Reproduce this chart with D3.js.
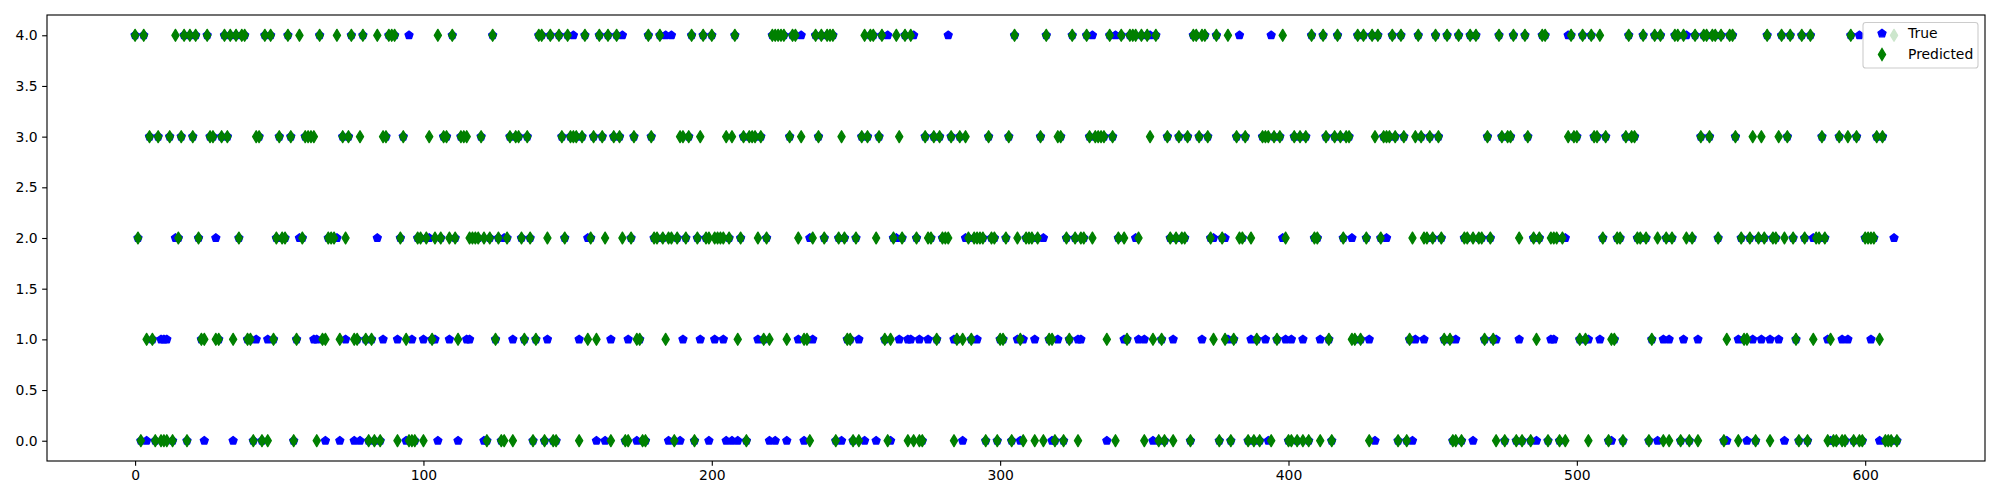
<!DOCTYPE html>
<html><head><meta charset="utf-8">
<script src="https://cdn.jsdelivr.net/npm/d3@7"></script>
<style>body{margin:0;background:#fff}svg{display:block}</style>
</head><body>
<svg id="chart" width="2000" height="500"></svg>
<script>
// Predicted class per sample (index 0..611)
const predictedValues = [
4,2,0,4,1,3,1,0,3,0, 0,0,3,0,4,2,3,4,0,4, 3,4,2,1,1,4,3,3,1,1, 3,4,3,4,1,4,2,4,4,1,
1,0,3,3,0,4,0,4,1,2, 3,2,2,4,3,0,1,4,2,3, 3,3,3,0,4,1,1,2,2,2, 4,1,3,2,3,4,1,1,3,4,
1,0,1,0,4,0,3,3,4,4, 4,0,2,3,1,0,0,0,2,2, 0,2,3,1,2,4,2,3,3,2, 4,2,1,3,3,3,2,2,2,2,
3,2,0,2,4,1,2,0,0,2, 3,0,3,3,2,1,3,2,0,1, 4,4,0,2,4,0,0,4,3,2, 4,3,3,3,0,3,4,1,2,3,
1,4,3,2,4,0,3,4,3,2, 0,0,2,3,1,1,0,0,4,3, 2,2,4,2,1,2,2,0,2,3, 3,2,3,4,0,2,3,4,2,2,
4,2,2,2,2,3,2,3,4,1, 2,3,0,3,3,3,2,3,1,2, 1,4,4,4,4,4,1,3,4,4, 2,3,1,1,0,2,4,3,4,2,
4,4,4,0,2,3,2,1,1,0, 2,0,3,4,3,4,4,2,3,4, 1,0,1,2,4,3,2,4,0,4, 0,2,0,0,3,2,2,3,1,3,
2,2,2,3,0,1,3,1,3,2, 1,2,2,2,2,0,3,2,2,0, 1,1,2,3,0,4,2,1,0,2, 2,2,0,2,3,0,4,1,1,0,
3,3,0,2,1,4,2,0,2,2, 4,3,2,3,3,3,3,1,4,3, 0,2,4,2,1,4,4,4,2,4, 0,4,3,1,4,0,1,0,3,2,
0,2,3,2,2,3,0,4,4,3, 4,4,3,2,1,4,0,2,1,4, 0,1,3,2,2,3,0,2,0,1, 0,3,3,3,0,3,1,3,4,2,
0,0,3,0,3,0,3,0,4,2, 2,0,4,3,1,0,3,4,3,2, 3,3,1,1,4,1,4,2,0,4, 3,4,2,3,3,3,4,3,0,4,
3,0,1,2,3,4,3,2,2,3, 2,4,3,2,1,4,1,0,0,4, 0,2,2,4,2,4,2,2,1,3, 2,1,0,4,3,0,3,3,4,0,
2,0,4,3,0,2,1,2,4,4, 0,2,2,2,0,2,0,3,4,3, 3,1,4,1,0,4,3,3,4,2, 3,0,1,1,2,2,0,3,4,3,
3,2,2,4,2,0,1,4,2,4, 0,2,0,2,4,4,0,4,2,0, 2,4,0,3,4,4,3,4,4,2, 4,0,1,4,4,3,0,2,1,1,
2,3,0,2,3,2,4,0,2,2, 3,4,2,3,4,2,1,0,4,2, 0,4,1,2,2,3,2,0,1,0, 0,3,0,0,3,4,0,3,0,0,
2,2,2,2,3,1,3,0,0,0, 4,0
];
// True class per sample (index 0..611)
const trueValues = [
4,2,0,4,0,3,1,0,3,1, 1,1,3,0,2,2,3,4,0,4, 3,4,2,1,0,4,3,3,2,1, 3,4,3,4,0,4,2,4,4,1,
1,0,1,3,0,4,1,4,1,2, 3,2,2,4,3,0,1,2,2,3, 3,3,1,1,4,1,0,2,2,2, 2,0,3,1,3,4,0,1,0,4,
1,0,1,0,2,0,1,3,4,4, 4,1,2,3,0,4,1,0,2,2, 1,2,2,1,1,0,2,3,3,1, 4,2,0,3,3,1,1,2,2,2,
3,0,0,2,4,1,2,0,2,2, 3,1,3,3,2,1,3,2,0,1, 4,4,0,1,4,0,0,4,3,2, 4,3,4,3,1,3,4,2,2,3,
0,4,3,0,4,1,3,4,3,4, 0,1,2,3,0,1,0,0,4,3, 2,2,4,2,4,0,4,0,2,0, 1,2,3,4,0,2,1,4,2,0,
4,1,2,2,1,0,2,0,4,0, 2,3,0,3,3,3,1,3,1,2, 0,4,0,4,4,4,0,3,4,4, 1,4,0,1,2,1,4,3,4,2,
4,4,4,0,2,0,2,1,1,0, 2,1,3,0,3,4,4,0,3,4, 1,4,0,2,2,1,2,4,1,1, 4,2,1,0,3,1,2,3,1,3,
2,2,4,3,1,1,3,0,2,2, 1,2,1,2,2,0,3,2,2,0, 1,1,2,3,0,4,1,0,1,2, 2,2,1,2,3,2,4,1,0,0,
1,3,0,2,1,4,2,1,1,2, 4,3,4,3,3,3,3,0,4,3, 4,2,4,1,1,4,4,2,1,4, 1,4,4,0,4,0,1,0,3,2,
1,2,3,2,2,3,0,4,4,3, 1,4,3,2,2,4,0,2,2,1, 0,1,3,4,2,3,0,1,0,1, 0,3,1,0,4,3,1,3,2,1,
0,1,3,0,3,1,3,0,4,2, 2,1,4,3,1,0,3,4,3,2, 3,3,2,1,4,1,4,2,1,4, 0,4,2,3,2,3,4,3,0,4,
3,0,1,0,1,4,3,1,2,3, 2,4,3,2,1,4,1,0,1,4, 0,2,2,4,0,4,2,2,1,3, 2,1,1,4,3,0,3,3,4,0,
1,0,4,3,0,2,0,2,4,4, 0,1,1,2,0,2,2,4,4,3, 3,1,4,1,1,4,3,3,1,2, 3,0,0,1,2,2,0,3,4,3,
3,2,2,4,2,0,1,4,0,4, 1,2,1,2,4,4,0,1,4,0, 2,4,1,3,4,4,3,4,4,2, 4,0,0,4,4,3,1,2,1,0,
2,1,0,2,1,2,4,1,2,2, 1,4,0,3,4,2,1,0,4,2, 0,4,2,2,2,3,2,1,0,0, 0,3,1,0,1,4,0,3,4,0,
2,2,1,2,3,0,3,0,0,0, 2,0
];
const xTickValues = [0, 100, 200, 300, 400, 500, 600];
const yTickValues = [0, 0.5, 1, 1.5, 2, 2.5, 3, 3.5, 4];
const seriesLabels = ["True", "Predicted"];
const seriesColors = ["#0000ff", "#008000"];

const svg = d3.select("#chart");
const font = "DejaVu Sans, sans-serif";
const fs = 13.9;
const L = 47, R = 1985, T = 15, B = 461;
const n = trueValues.length;
const pad = (n - 1) * 0.05;
const x = d3.scaleLinear().domain([-pad, (n - 1) + pad]).range([L, R]);
const y = d3.scaleLinear().domain([-0.2, 4.2]).range([B, T]);

// marker shapes (matplotlib 'p' and 'd' at markersize 6)
const ms = 6 * 100 / 72;
const pentR = ms * 0.5;
const pentPts = d3.range(5).map(k => {
  const a = Math.PI / 2 + k * 2 * Math.PI / 5;
  return [pentR * Math.cos(a), -pentR * Math.sin(a)];
});
const dh = ms * Math.SQRT1_2, dw = dh * 0.6;
const diaPts = [[0, -dh], [dw, 0], [0, dh], [-dw, 0]];
const closed = d3.line().curve(d3.curveLinearClosed);
const pentPath = closed(pentPts), diaPath = closed(diaPts);

// axes
const xAxis = d3.axisBottom(x).tickValues(xTickValues).tickFormat(d3.format("d"))
  .tickSizeInner(4.86).tickSizeOuter(0).tickPadding(4.5);
const gx = svg.append("g").attr("transform", `translate(0,${B})`).call(xAxis);
const yAxis = d3.axisLeft(y).tickValues(yTickValues).tickFormat(d3.format(".1f"))
  .tickSizeInner(4.86).tickSizeOuter(0).tickPadding(4.5);
const gy = svg.append("g").attr("transform", `translate(${L},0)`).call(yAxis);
[gx, gy].forEach(g => {
  g.select(".domain").remove();
  g.selectAll(".tick line").attr("stroke", "#000").attr("stroke-width", 1.11);
  g.selectAll(".tick text").attr("fill", "#000").attr("font-family", font).attr("font-size", fs);
});

// data
const plot = svg.append("g");
plot.selectAll("path.true").data(trueValues).join("path").attr("class", "true")
  .attr("d", pentPath)
  .attr("transform", (d, i) => `translate(${x(i)},${y(d)})`)
  .attr("fill", seriesColors[0]).attr("stroke", seriesColors[0]).attr("stroke-width", 1.39)
  .attr("stroke-linejoin", "round");
plot.selectAll("path.pred").data(predictedValues).join("path").attr("class", "pred")
  .attr("d", diaPath)
  .attr("transform", (d, i) => `translate(${x(i)},${y(d)})`)
  .attr("fill", seriesColors[1]).attr("stroke", seriesColors[1]).attr("stroke-width", 1.39)
  .attr("stroke-linejoin", "round");

// frame
svg.append("rect").attr("x", L).attr("y", T).attr("width", R - L).attr("height", B - T)
  .attr("fill", "none").attr("stroke", "#000").attr("stroke-width", 1.11);

// legend
const lg = svg.append("g");
lg.append("rect").attr("x", 1863).attr("y", 22.5).attr("width", 115).attr("height", 45.5)
  .attr("rx", 2.8).attr("fill", "#fff").attr("fill-opacity", 0.8)
  .attr("stroke", "#cccccc").attr("stroke-width", 1.1);
const shapes = [pentPath, diaPath];
seriesLabels.forEach((lab, i) => {
  const cy = 33.5 + i * 21;
  lg.append("path").attr("d", shapes[i]).attr("transform", `translate(1882,${cy})`)
    .attr("fill", seriesColors[i]).attr("stroke", seriesColors[i]).attr("stroke-width", 1.39);
  lg.append("text").attr("x", 1908).attr("y", cy).attr("dy", "0.35em")
    .attr("font-family", font).attr("font-size", fs).attr("fill", "#000").text(lab);
});
</script>
</body></html>
